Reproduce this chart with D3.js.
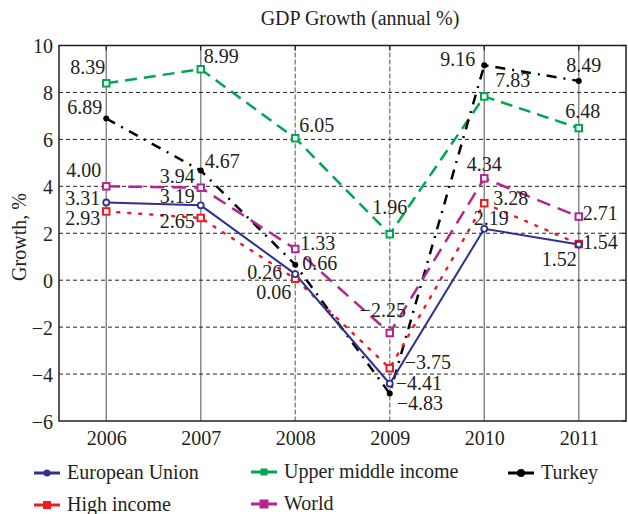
<!DOCTYPE html>
<html>
<head>
<meta charset="utf-8">
<script src="https://cdn.jsdelivr.net/npm/d3@7"></script>
<style>
  body { margin: 0; background: #fff; }
  text { font-family: "Liberation Serif", "DejaVu Serif", serif; fill: #231f20; }
</style>
</head>
<body>
<div id="chart"></div>
<script>
// chart data
var years = [2006, 2007, 2008, 2009, 2010, 2011];
var euValues = [3.31, 3.19, 0.26, -4.41, 2.19, 1.52];
var highIncomeValues = [2.93, 2.65, 0.06, -3.75, 3.28, 1.54];
var upperMiddleValues = [8.39, 8.99, 6.05, 1.96, 7.83, 6.48];
var turkeyValues = [6.89, 4.67, 0.66, -4.83, 9.16, 8.49];
var worldValues = [4.00, 3.94, 1.33, -2.25, 4.34, 2.71];
var yTicks = [-6, -4, -2, 0, 2, 4, 6, 8, 10];

var svgWidth = 628;
var svgHeight = 514;
var margin = { top: 45.5, right: 2, bottom: 93, left: 59 };
var width = svgWidth - margin.left - margin.right;
var height = svgHeight - margin.top - margin.bottom;
var fontSize = "20px";

var svg = d3.select("#chart")
  .append("svg")
  .attr("width", svgWidth)
  .attr("height", svgHeight);

var chartGroup = svg.append("g")
  .attr("transform", `translate(${margin.left}, ${margin.top})`);

var xScale = d3.scaleLinear().domain([2005.5, 2011.5]).range([0, width]);
var yScale = d3.scaleLinear().domain([-6, 10]).range([height, 0]);

var fmt = function(v) { return d3.format(".2f")(v).replace("-", "\u2212"); };

// series with styling + label placement [anchor, dx, dy]
var series = [
  { name: "Upper middle income", values: upperMiddleValues, color: "#00a651", dash: "12,7", width: 2.5,
    marker: "square", size: 6.5, legendSize: 7,
    labels: [["end", -1, -9], ["start", 3, -6], ["start", 4, -6], ["middle", 0, -20], ["start", 11, -9], ["middle", 4, -10]] },
  { name: "Turkey", values: turkeyValues, color: "#000000", dash: "10,7,2,7", width: 2.5,
    marker: "dot", size: 3, legendSize: 4,
    labels: [["end", -4, -4], ["start", 4, -3], ["start", 7, 5], ["start", 7, 16], ["end", -9, 1], ["middle", 5, -9]] },
  { name: "World", values: worldValues, color: "#b5258f", dash: "14,8", width: 2.5,
    marker: "square", size: 6.5, legendSize: 9,
    labels: [["end", -5, -9], ["end", -6, -5], ["start", 5, 1], ["middle", -7, -16], ["middle", 0, -7], ["start", 4, 3]] },
  { name: "High income", values: highIncomeValues, color: "#ed1c24", dash: "2,9", width: 2.5,
    marker: "square", size: 6.5, legendSize: 8,
    labels: [["end", -6, 14], ["end", -6, 10], ["end", -4, 20], ["start", 15, 1], ["start", 9, 2], ["start", 4, 5]] },
  { name: "European Union", values: euValues, color: "#2e3192", dash: null, width: 2,
    marker: "circle", size: 3, legendSize: 3.5,
    labels: [["end", -6, 2], ["end", -6, -2], ["end", -13, 5], ["start", 6, 6], ["middle", 7, -4], ["end", -2, 21]] }
];

// vertical grid lines (gray)
chartGroup.append("g")
  .selectAll("line")
  .data(years)
  .enter()
  .append("line")
  .attr("x1", d => xScale(d))
  .attr("x2", d => xScale(d))
  .attr("y1", 0)
  .attr("y2", height)
  .attr("stroke", "#8a8a8a")
  .attr("stroke-width", 1.5)
  .attr("stroke-dasharray", d => (d === 2008 || d === 2009) ? "5,2" : null);

// horizontal grid lines (black dashed)
chartGroup.append("g")
  .selectAll("line")
  .data(yTicks.filter(d => d > -6 && d < 10))
  .enter()
  .append("line")
  .attr("x1", 0)
  .attr("x2", width)
  .attr("y1", d => yScale(d))
  .attr("y2", d => yScale(d))
  .attr("stroke", "#222")
  .attr("stroke-width", 1)
  .attr("stroke-dasharray", "4,3");

// axes
var leftAxis = d3.axisLeft(yScale).tickValues(yTicks).tickSize(0).tickPadding(6).tickFormat(d => String(d).replace("-", "\u2212"));
var bottomAxis = d3.axisBottom(xScale).tickValues(years).tickSize(0).tickPadding(10).tickFormat(d3.format("d"));

var yAxis = chartGroup.append("g").call(leftAxis);
var xAxis = chartGroup.append("g").attr("transform", `translate(0, ${height})`).call(bottomAxis);
[yAxis, xAxis].forEach(function(a) {
  a.select(".domain").remove();
  a.selectAll("text").style("font-size", fontSize).attr("fill", "#231f20")
    .style("font-family", "Liberation Serif, serif");
});
yAxis.selectAll("text").attr("dy", "0.35em");

// inner ticks on right and top
chartGroup.append("g").selectAll("line").data(yTicks).enter().append("line")
  .attr("x1", width - 4).attr("x2", width)
  .attr("y1", d => yScale(d)).attr("y2", d => yScale(d))
  .attr("stroke", "#222").attr("stroke-width", 1.2);
chartGroup.append("g").selectAll("line").data(years).enter().append("line")
  .attr("x1", d => xScale(d)).attr("x2", d => xScale(d))
  .attr("y1", 0).attr("y2", 5)
  .attr("stroke", "#222").attr("stroke-width", 1.2);

// frame
chartGroup.append("rect")
  .attr("x", 0).attr("y", 0)
  .attr("width", width).attr("height", height)
  .attr("fill", "none")
  .attr("stroke", "#231f20")
  .attr("stroke-width", 1.5);

// lines
var line = d3.line()
  .x((d, i) => xScale(years[i]))
  .y(d => yScale(d));

series.forEach(function(s) {
  chartGroup.append("path")
    .datum(s.values)
    .attr("d", line)
    .attr("fill", "none")
    .attr("stroke", s.color)
    .attr("stroke-width", s.width)
    .attr("stroke-dasharray", s.dash)
    .attr("stroke-linecap", s.dash === "2,9" ? "round" : "butt");
});

// markers
function drawMarker(g, s, cx, cy, size, filled) {
  if (s.marker === "square") {
    g.append("rect")
      .attr("x", cx - size / 2).attr("y", cy - size / 2)
      .attr("width", size).attr("height", size)
      .attr("fill", filled ? s.color : "#fff")
      .attr("stroke", s.color)
      .attr("stroke-width", filled ? 0 : 2);
  } else if (s.marker === "circle") {
    g.append("circle")
      .attr("cx", cx).attr("cy", cy).attr("r", size)
      .attr("fill", filled ? s.color : "#fff")
      .attr("stroke", s.color)
      .attr("stroke-width", filled ? 0 : 1.8);
  } else {
    g.append("circle")
      .attr("cx", cx).attr("cy", cy).attr("r", size)
      .attr("fill", s.color);
  }
}

series.forEach(function(s) {
  var g = chartGroup.append("g");
  s.values.forEach(function(v, i) {
    drawMarker(g, s, xScale(years[i]), yScale(v), s.size, false);
  });
});

// value labels
series.forEach(function(s) {
  chartGroup.append("g")
    .selectAll("text")
    .data(s.values)
    .enter()
    .append("text")
    .attr("x", (d, i) => xScale(years[i]) + s.labels[i][1])
    .attr("y", (d, i) => yScale(d) + s.labels[i][2])
    .attr("text-anchor", (d, i) => s.labels[i][0])
    .style("font-size", fontSize)
    .text(d => fmt(d));
});

// title
svg.append("text")
  .attr("x", 360)
  .attr("y", 25)
  .attr("text-anchor", "middle")
  .style("font-size", fontSize)
  .text("GDP Growth (annual %)");

// y label
svg.append("text")
  .attr("transform", "rotate(-90)")
  .attr("x", -237)
  .attr("y", 26)
  .attr("text-anchor", "middle")
  .style("font-size", fontSize)
  .text("Growth, %");

// legend
var legendItems = [
  { s: series[4], x: 34, y: 473 },
  { s: series[0], x: 251, y: 472 },
  { s: series[1], x: 508, y: 473 },
  { s: series[3], x: 34, y: 505 },
  { s: series[2], x: 251, y: 504 }
];
var legend = svg.append("g");
legendItems.forEach(function(item) {
  var g = legend.append("g");
  g.append("line")
    .attr("x1", item.x).attr("x2", item.x + 26)
    .attr("y1", item.y).attr("y2", item.y)
    .attr("stroke", item.s.color)
    .attr("stroke-width", 3);
  drawMarker(g, item.s, item.x + 13, item.y, item.s.legendSize, true);
  g.append("text")
    .attr("x", item.x + 33)
    .attr("y", item.y + 6)
    .style("font-size", fontSize)
    .text(item.s.name);
});
</script>
</body>
</html>
